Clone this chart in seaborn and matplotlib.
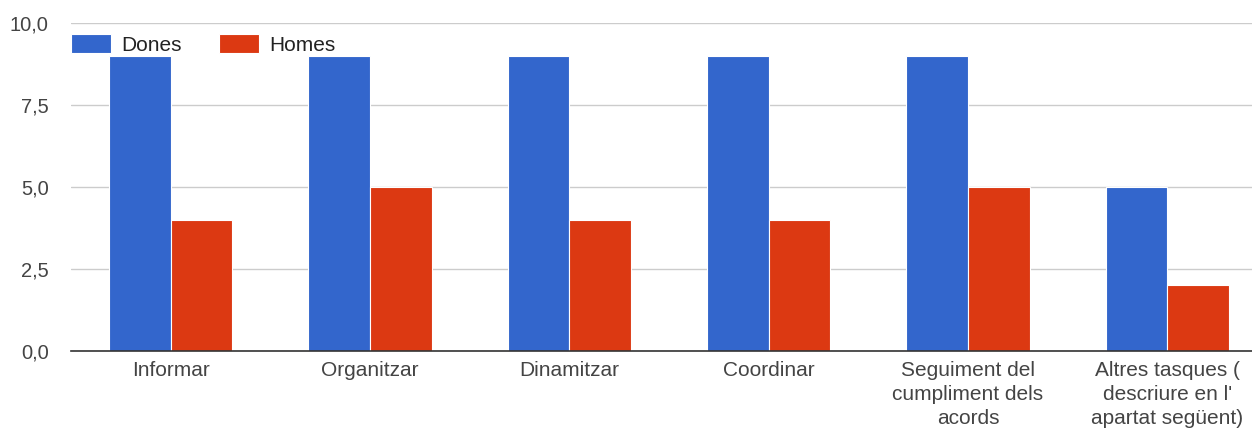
import matplotlib
matplotlib.use("Agg")
import matplotlib.pyplot as plt
import seaborn as sns
import pandas as pd
from matplotlib.ticker import FuncFormatter

categories = ["Informar", "Organitzar", "Dinamitzar", "Coordinar",
              "Seguiment del\ncumpliment dels\nacords",
              "Altres tasques (\ndescriure en l'\napartat següent)"]
dones = [9, 9, 9, 9, 9, 5]
homes = [4, 5, 4, 4, 5, 2]
series = ["Dones", "Homes"]
colors = ["#3366CC", "#DC3912"]
yticks = [0, 2.5, 5, 7.5, 10]

df = pd.DataFrame({
    "cat": categories * 2,
    "val": dones + homes,
    "serie": ["Dones"] * len(categories) + ["Homes"] * len(categories),
})

sns.set_theme(style="white")
plt.rcParams["font.family"] = ["Liberation Sans", "DejaVu Sans"]

W, H = 1252, 432
left_px, right_px, top_px, bot_px = 71, 1267, 23, 351
fig = plt.figure(figsize=(W / 100, H / 100), dpi=100)
ax = fig.add_axes([left_px / W, 1 - bot_px / H, (right_px - left_px) / W, (bot_px - top_px) / H])
sns.barplot(data=df, x="cat", y="val", hue="serie", palette=colors,
            hue_order=series, order=categories, width=0.62, ax=ax,
            edgecolor="white", linewidth=0.8, saturation=1)

ax.set_ylim(0, 10)
ax.set_xlim(-0.5, len(categories) - 0.5)
ax.set_yticks(yticks)
ax.yaxis.set_major_formatter(FuncFormatter(lambda v, p: f"{v:.1f}".replace(".", ",")))
ax.grid(axis="y", color="#cccccc", linewidth=1)
ax.set_axisbelow(True)
for s in ["left", "right", "top"]:
    ax.spines[s].set_visible(False)
ax.spines["bottom"].set_color("#333333")
ax.spines["bottom"].set_linewidth(1.2)
ax.tick_params(axis="x", length=0, labelsize=15, colors="#444444", pad=7)
ax.tick_params(axis="y", length=0, labelsize=14.5, colors="#444444", pad=16)
for lab in ax.get_xticklabels():
    lab.set_linespacing(1.35)
ax.set_xlabel("")
ax.set_ylabel("")

leg = ax.legend(loc="upper left", bbox_to_anchor=(0.0, 0.965), ncol=2, frameon=False,
                fontsize=15, handlelength=1.92, handleheight=1.0,
                columnspacing=1.8, handletextpad=0.48, borderaxespad=0.0,
                borderpad=0.0)
for t in leg.get_texts():
    t.set_color("#222222")

fig.savefig("out.png", dpi=100)
